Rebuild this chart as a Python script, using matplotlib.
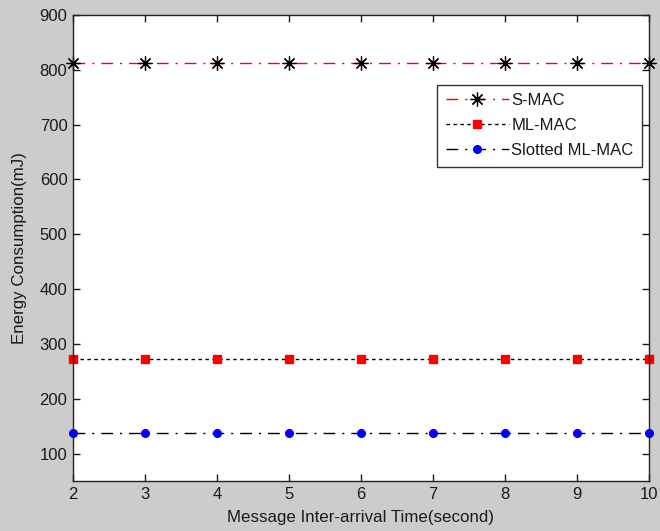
import matplotlib
matplotlib.use("Agg")
import matplotlib.pyplot as plt

# data
interarrival = [2, 3, 4, 5, 6, 7, 8, 9, 10]
smac = [812, 812, 812, 812, 812, 812, 812, 812, 812]
mlmac = [272, 272, 272, 272, 272, 272, 272, 272, 272]
slotted = [138, 138, 138, 138, 138, 138, 138, 138, 138]
xticks = [2, 3, 4, 5, 6, 7, 8, 9, 10]
yticks = [100, 200, 300, 400, 500, 600, 700, 800, 900]

plt.rcParams["font.family"] = ["Liberation Sans", "DejaVu Sans"]
TXT = "#1a1a1a"
DASHDOT = (0, (8.5, 5, 1.5, 5))

fig = plt.figure(figsize=(6.6, 5.31), dpi=100, facecolor="#cccccc")
ax = fig.add_axes([0.1106, 0.0942, 0.8727, 0.8775])
ax.set_facecolor("white")

ax.plot(interarrival, smac, color="red", linestyle=DASHDOT, linewidth=1,
        marker=(8, 2, 0), markersize=10, markeredgecolor="black",
        markerfacecolor="black", markeredgewidth=0.9, label="S-MAC", clip_on=False)
ax.plot(interarrival, mlmac, color="black", linestyle=(0, (2.5, 2.5)), linewidth=1,
        marker="s", markersize=5.5, markeredgecolor="red", markerfacecolor="red",
        label="ML-MAC", clip_on=False)
ax.plot(interarrival, slotted, color="black", linestyle=DASHDOT, linewidth=1,
        marker="o", markersize=5.5, markeredgecolor="blue", markerfacecolor="blue",
        label="Slotted ML-MAC", clip_on=False)

ax.set_xlim(2, 10)
ax.set_ylim(50, 900)
ax.set_xticks(xticks)
ax.set_yticks(yticks)
ax.tick_params(direction="in", top=True, right=True, length=5, width=1,
               labelsize=12, colors=TXT, pad=4)
for sp in ax.spines.values():
    sp.set_linewidth(1)
    sp.set_color("#222222")

ax.set_xlabel("Message Inter-arrival Time(second)", fontsize=12.2, labelpad=6,
              color=TXT)
ax.set_ylabel("Energy Consumption(mJ)", fontsize=12.2, labelpad=9, color=TXT)

leg = ax.legend(loc="upper right", bbox_to_anchor=(0.988, 0.85), fontsize=12,
                handlelength=3.8, handletextpad=0.15, borderpad=0.5,
                labelspacing=0.6, fancybox=False, framealpha=1,
                edgecolor="#333333", borderaxespad=0)
leg.get_frame().set_linewidth(1)
for t in leg.get_texts():
    t.set_color(TXT)

fig.savefig("out.png", dpi=100, facecolor=fig.get_facecolor())
